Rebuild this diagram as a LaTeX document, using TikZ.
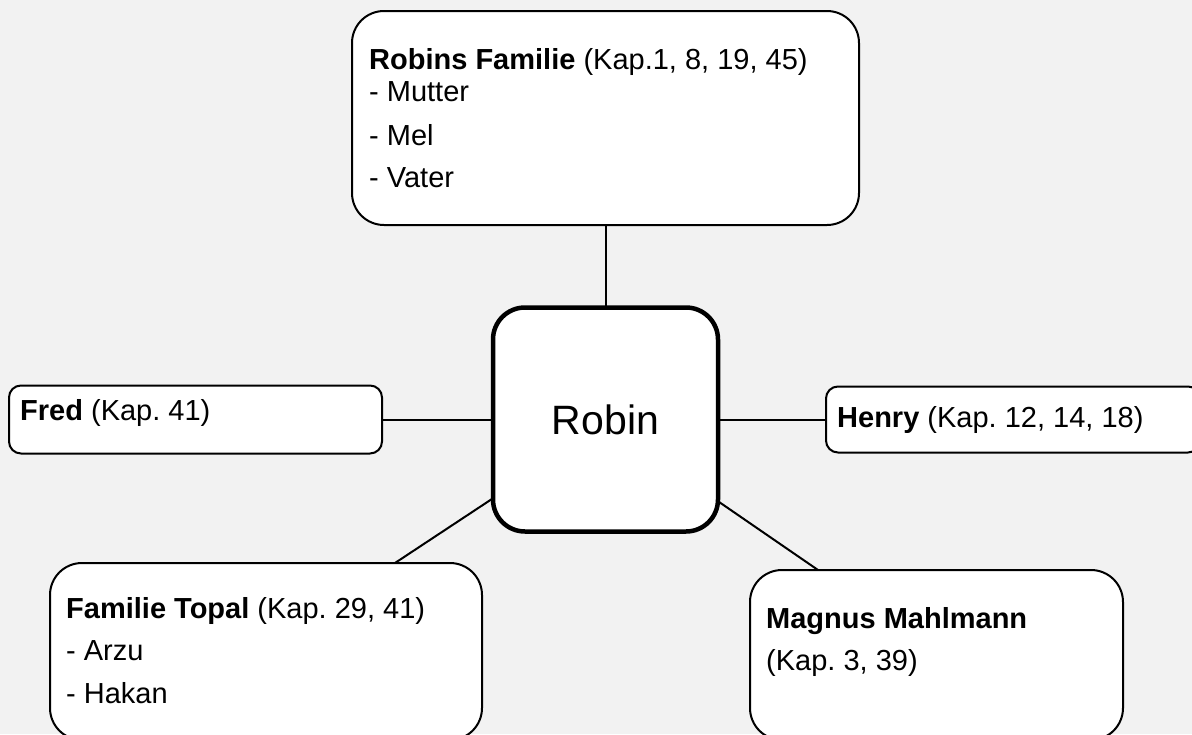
\documentclass[tikz,border=0pt]{standalone}
\usepackage{fontspec}
\setmainfont{Liberation Sans}
\usepackage{tikz}
\frenchspacing

\definecolor{bggray}{HTML}{F2F2F2}

\begin{document}
\begin{tikzpicture}[x=1pt,y=-1pt]
  \tikzset{box/.style = {draw,fill=white,line width=2pt,rounded corners=32pt,inner sep=0pt,outer sep=0pt}}
  \tikzset{txt/.style = {anchor=base west,inner sep=0pt,font=\fontsize{29}{34}\selectfont}}
  \tikzset{link/.style = {line width=2pt}}

\useasboundingbox (0,0) rectangle (1192,734);
\fill[bggray] (0,0) rectangle (1192,734);

% boxes
\node[box,minimum width=507pt,minimum height=214pt] (fam)  at (605.5,118) {};
\node[box,line width=4.5pt,minimum width=225pt,minimum height=224pt,font=\fontsize{41}{48}\selectfont] (robin)  at (605.5,419.5) {Robin};
\node[box,rounded corners=12pt,minimum width=373pt,minimum height=68pt] (fred)  at (195.5,419.5) {};
\node[box,rounded corners=12pt,minimum width=374pt,minimum height=66pt] (henry)  at (1013,419.5) {};
\node[box,minimum width=432pt,minimum height=177pt] (topal)  at (266,651.5) {};
\node[box,minimum width=373pt,minimum height=170pt] (magnus)  at (936.5,655) {};

% texts
\node[txt] (fam1) at (369,69) {\textbf{Robins Familie} (Kap.1, 8, 19, 45)};
\node[txt] (fam2) at (369,101) {- Mutter};
\node[txt] (fam3) at (369,145) {- Mel};
\node[txt] (fam4) at (369,187.5) {- Vater};
\node[txt] (fred1) at (20,420) {\textbf{Fred} (Kap. 41)};
\node[txt] (henry1) at (837,427) {\textbf{Henry} (Kap. 12, 14, 18)};
\node[txt] (topal1) at (66,618) {\textbf{Familie Topal} (Kap. 29, 41)};
\node[txt] (topal2) at (66,660) {- Arzu};
\node[txt] (topal3) at (66,703) {- Hakan};
\node[txt] (magnus1) at (766,628) {\textbf{Magnus Mahlmann}};
\node[txt] (magnus2) at (766,670) {(Kap. 3, 39)};

% connectors
\draw[link] (fam.south) -- (robin.north);
\draw[link] (fred.east) -- (robin.west);
\draw[link] (robin.east) -- (henry.west);
\draw[link] (robin.215) -- ([xshift=129pt]topal.north);
\draw[link] (robin.324) -- ([xshift=-118.5pt]magnus.north);

\end{tikzpicture}
\end{document}
